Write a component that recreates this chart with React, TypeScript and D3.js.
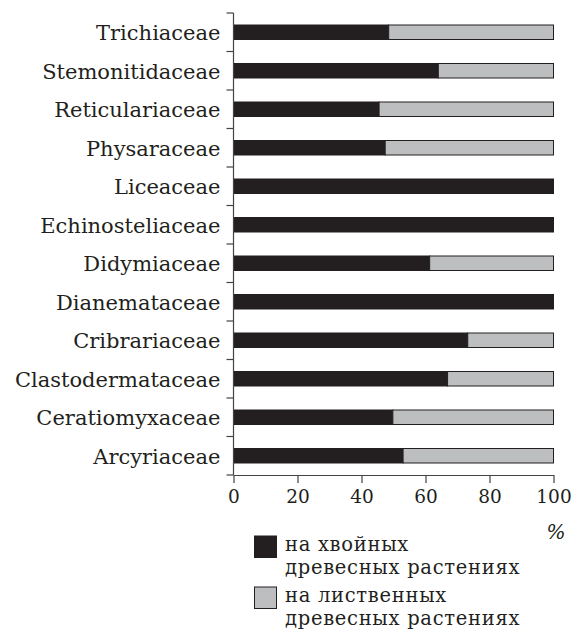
import React, { useEffect, useRef } from "react";
import * as d3 from "d3";

// Families, top to bottom, and the share on conifers (%)
const families = [
  "Trichiaceae",
  "Stemonitidaceae",
  "Reticulariaceae",
  "Physaraceae",
  "Liceaceae",
  "Echinosteliaceae",
  "Didymiaceae",
  "Dianemataceae",
  "Cribrariaceae",
  "Clastodermataceae",
  "Ceratiomyxaceae",
  "Arcyriaceae",
];
const coniferShare = [48.5, 64, 45.5, 47.4, 100, 100, 61.3, 100, 73.2, 66.9, 49.8, 53];
const xTicks = [0, 20, 40, 60, 80, 100];
const legendLines = [
  ["на хвойных", "древесных растениях"],
  ["на лиственных", "древесных растениях"],
];

const W = 571;
const H = 630;
const FONT = "'DejaVu Serif', serif";
const DARK = "#231f20";
const LIGHT = "#bcbec0";

function App() {
  const ref = useRef<SVGSVGElement>(null);

  useEffect(() => {
    const svg = d3.select(ref.current).html("");

    const x = d3.scaleLinear().domain([0, 100]).range([233.5, 553.5]);
    const y = d3.scaleBand().domain(families).range([13, 475]).padding(0);
    const barH = 14.5;

    const data = families.map((name, i) => ({ name, a: coniferShare[i], b: 100 - coniferShare[i] }));

    // bars: conifer part then deciduous part
    const g = svg.append("g");
    data.forEach((d) => {
      const cy = (y(d.name) as number) + y.bandwidth() / 2;
      g.append("rect")
        .attr("x", x(0))
        .attr("y", cy - barH / 2)
        .attr("width", x(d.a) - x(0))
        .attr("height", barH)
        .attr("fill", DARK)
        .attr("stroke", DARK)
        .attr("stroke-width", 1);
      if (d.b > 0) {
        g.append("rect")
          .attr("x", x(d.a))
          .attr("y", cy - barH / 2)
          .attr("width", x(100) - x(d.a))
          .attr("height", barH)
          .attr("fill", LIGHT)
          .attr("stroke", DARK)
          .attr("stroke-width", 1);
      }
    });

    // y axis: line and ticks at band boundaries
    const [y0, y1] = y.range();
    svg.append("line")
      .attr("x1", x(0)).attr("x2", x(0))
      .attr("y1", y0).attr("y2", y1)
      .attr("stroke", "#444").attr("stroke-width", 1.2);
    d3.range(families.length + 1).forEach((i) => {
      const ty = y0 + i * y.step();
      svg.append("line")
        .attr("x1", x(0) - 7).attr("x2", x(0))
        .attr("y1", ty).attr("y2", ty)
        .attr("stroke", "#444").attr("stroke-width", 1.2);
    });

    // category labels
    svg.append("g")
      .selectAll("text")
      .data(families)
      .join("text")
      .attr("x", x(0) - 13)
      .attr("y", (d) => (y(d) as number) + y.bandwidth() / 2)
      .attr("dy", "0.37em")
      .attr("text-anchor", "end")
      .attr("font-family", FONT)
      .attr("font-size", 21)
      .attr("fill", DARK)
      .text((d) => d);

    // x axis
    const xAxis = svg.append("g")
      .attr("transform", `translate(0,${y1})`)
      .call(d3.axisBottom(x).tickValues(xTicks).tickSize(8).tickPadding(7).tickSizeOuter(0));
    xAxis.select(".domain").attr("stroke", "#444").attr("stroke-width", 1.2);
    xAxis.selectAll(".tick line").attr("stroke", "#444").attr("stroke-width", 1.2);
    xAxis.selectAll(".tick text")
      .attr("font-family", FONT)
      .attr("font-size", 18.5)
      .attr("fill", DARK);

    svg.append("text")
      .attr("x", 556)
      .attr("y", 539)
      .attr("text-anchor", "middle")
      .attr("font-family", FONT)
      .attr("font-style", "italic")
      .attr("font-size", 20)
      .attr("fill", DARK)
      .text("%");

    // legend
    const legend = svg.append("g");
    [DARK, LIGHT].forEach((c, i) => {
      const top = 536 + i * 51;
      legend.append("rect")
        .attr("x", 254.5).attr("y", top)
        .attr("width", 22).attr("height", 21.5)
        .attr("fill", c).attr("stroke", DARK).attr("stroke-width", 1);
      legendLines[i].forEach((line, j) => {
        legend.append("text")
          .attr("x", 285)
          .attr("y", top + 15 + j * 23)
          .attr("font-family", FONT)
          .attr("font-size", 19.5)
          .attr("letter-spacing", 0.7)
          .attr("fill", DARK)
          .text(line);
      });
    });
  }, []);

  return (
    <svg
      ref={ref}
      width={W}
      height={H}
      style={{ position: "absolute", left: 0, top: 0, background: "#fff" }}
    />
  );
}

export default App;
